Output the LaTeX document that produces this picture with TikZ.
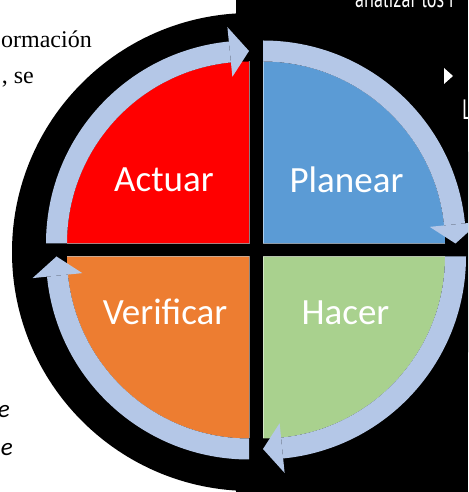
\documentclass[tikz,border=0pt]{standalone}
\usepackage{fontspec}
\setmainfont{Liberation Serif}
\newfontfamily\labelfont{Carlito}
\newfontfamily\narrowfont{PT Sans}
\usetikzlibrary{calc}
\definecolor{actc}{HTML}{FF0000}
\definecolor{planc}{HTML}{5B9BD5}
\definecolor{hacc}{HTML}{A9D18E}
\definecolor{verc}{HTML}{ED7D31}
\definecolor{ringc}{HTML}{B4C7E7}
\tikzset{
  lbl/.style={text=white, inner sep=0pt, font=\labelfont\fontsize{37}{40}\selectfont},
  pagetxt/.style={inner sep=0pt, font=\fontsize{24}{28}\selectfont},
  itxt/.style={inner sep=0pt, font=\labelfont\itshape\fontsize{25}{28}\selectfont},
  wtxt/.style={inner sep=0pt, text=white, font=\narrowfont\fontsize{26}{28}\selectfont},
  edgeline/.style={white, draw opacity=0.5, line width=0.8pt}
}
\begin{document}
\begin{tikzpicture}[x=1pt,y=1pt]
\useasboundingbox (0,0) rectangle (468,492);
\clip (0,0) rectangle (468,492);
% black background
\fill[black] (236,0) rectangle (468,492);
\fill[black] (251,240) circle[radius=239pt];
% quadrant corners
\coordinate (ctl) at (249,248.5);
\coordinate (ctr) at (263,248.5);
\coordinate (cbr) at (263,235.5);
\coordinate (cbl) at (249,235.5);
\foreach \cn/\sa/\col in {ctl/180/actc, ctr/90/planc, cbr/0/hacc, cbl/270/verc} {
  \fill[\col] (\cn) -- ($(\cn)+(\sa:182pt)$) arc[start angle=\sa, delta angle=-90, radius=182pt] -- cycle;
  \draw[edgeline] ($(\cn)+(\sa:182pt)$) -- (\cn) -- ($(\cn)+(\sa-90:182pt)$);
  \fill[ringc] ($(\cn)+(\sa:203pt)$) arc[start angle=\sa, end angle=\sa-84.3, radius=203pt]
     -- ($(\cn)+(\sa-84.3:182pt)$) arc[start angle=\sa-84.3, end angle=\sa, radius=182pt] -- cycle;
  \fill[ringc] ($(\cn)+(\sa-84.3:167.5pt)$) -- ($(\cn)+(\sa-84.3:217.5pt)$) -- ($(\cn)+(\sa-90:192.5pt)$) -- cycle;
}
% labels
\node[lbl, anchor=base] (actuar) at (164,300) {Actuar};
\node[lbl, anchor=base] (planear) at (346.5,299) {Planear};
\node[lbl, anchor=base] (verificar) at (165,167) {Verificar};
\node[lbl, anchor=base] (hacer) at (345.5,167) {Hacer};
% page text fragments
\node[pagetxt, anchor=base east] (t1) at (92,444) {ormación};
\node[pagetxt, anchor=base east] (t2) at (34,408) {, se};
\node[itxt, anchor=base east] (t3) at (10,74) {e};
\node[itxt, anchor=base east] (t4) at (13,36) {e};
\node[wtxt, anchor=base west] (t5) at (355,484) {\scalebox{0.7}[1]{analizar los r}};
\fill[white] (444,424) -- (444,408) -- (453,416) -- cycle;
\node[wtxt, anchor=base west, font=\narrowfont\fontsize{28}{30}\selectfont] (t6) at (462,372) {\scalebox{0.7}[1]{L}};
\end{tikzpicture}
\end{document}
